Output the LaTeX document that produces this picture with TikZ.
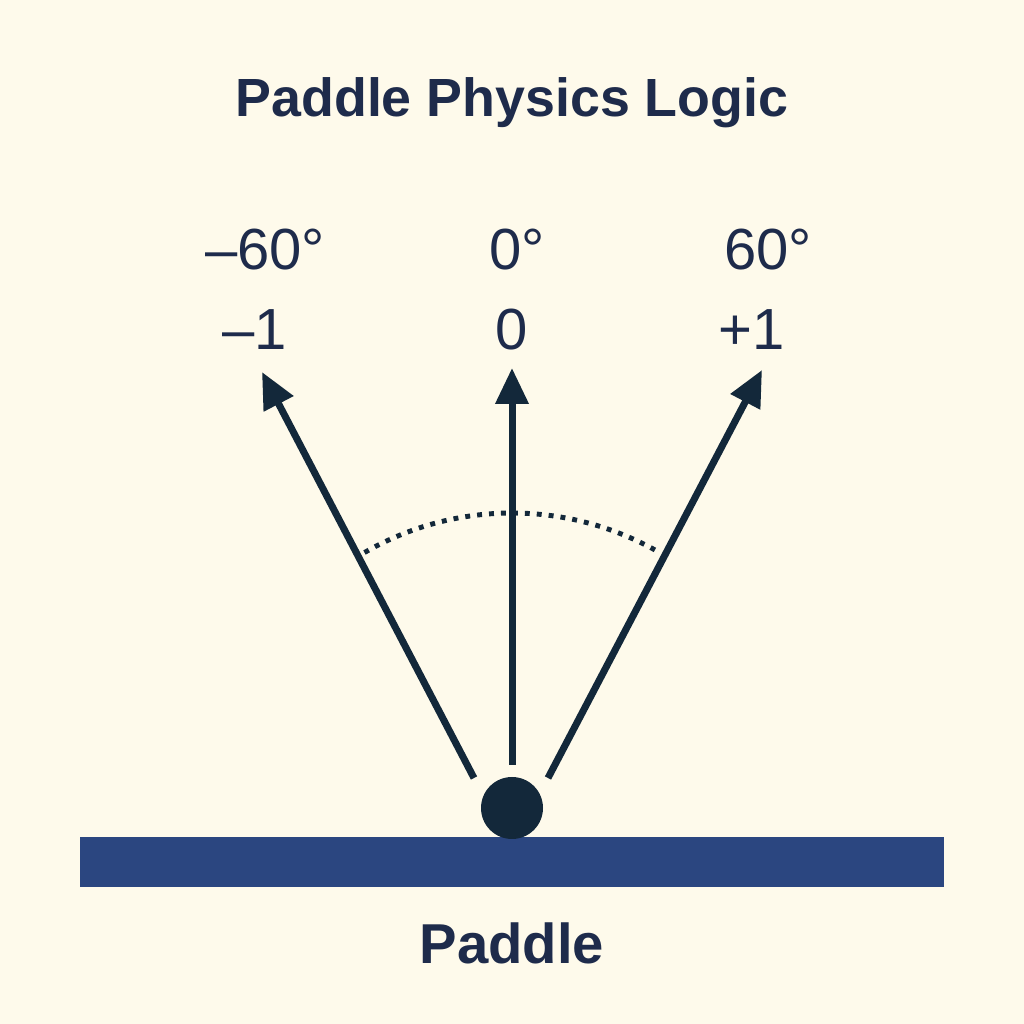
\documentclass[tikz,border=0pt]{standalone}
\usepackage{fontspec}
\setmainfont{Liberation Sans}
\usetikzlibrary{arrows.meta}
\definecolor{bgcream}{HTML}{FEFAEB}
\definecolor{inkdark}{HTML}{13283A}
\definecolor{textnavy}{HTML}{1E2B4B}
\definecolor{paddleblue}{HTML}{2B4680}
\tikzset{
  dirarrow/.style={line width=0.07cm, draw=inkdark, -{Triangle[length=0.36cm,width=0.32cm]}},
  anglelbl/.style={text=textnavy, font=\fontsize{16.5}{20}\selectfont},
  headlbl/.style={text=textnavy, font=\bfseries\fontsize{16}{19}\selectfont},
}
\begin{document}
\begin{tikzpicture}
			\fill[bgcream] (0,0) rectangle (10.24,10.24);
			\fill[paddleblue] (0.80,1.37) rectangle (9.44,1.87);
			\node[circle, fill=inkdark, minimum size=0.62cm, inner sep=0pt] (ball) at (5.12,2.16) {};
			% start and end points of the three directions
			\coordinate (sl) at (4.74,2.46);
			\coordinate (sc) at (5.12,2.59);
			\coordinate (sr) at (5.48,2.46);
			\coordinate (el) at (2.62,6.52);
			\coordinate (ec) at (5.12,6.56);
			\coordinate (er) at (7.62,6.54);
			\draw[dirarrow] (sl)--(el);
			\draw[dirarrow] (sc)--(ec);
			\draw[dirarrow] (sr)--(er);
			\draw[inkdark, line width=1.4pt, dash pattern=on 1.4pt off 2pt] ([shift={(120:2.95)}]ball.center) arc [start angle=120, end angle=60, radius=2.95];
			\node[headlbl, font=\bfseries\fontsize{15.3}{18}\selectfont] (title) at (5.12,9.21) {Paddle Physics Logic};
			\node[anglelbl] (degl) at (2.65,7.74) {–60°};
			\node[anglelbl] (degc) at (5.17,7.74) {0°};
			\node[anglelbl] (degr) at (7.68,7.74) {60°};
			\node[anglelbl] (vall) at (2.55,6.94) {–1};
			\node[anglelbl] (valc) at (5.12,6.94) {0};
			\node[anglelbl] (valr) at (7.52,6.94) {+1};
			\node[headlbl] (paddle) at (5.12,0.81) {Paddle};
			\end{tikzpicture}
\end{document}
